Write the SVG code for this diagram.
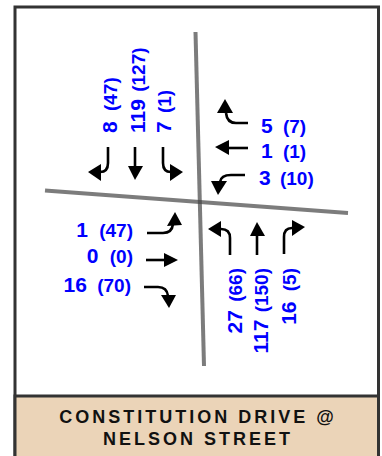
<svg xmlns="http://www.w3.org/2000/svg" width="382" height="456" viewBox="0 0 382 456">
<style>
.road{stroke:#444;stroke-opacity:0.7;stroke-width:4;fill:none}
.arr{stroke:#000;stroke-width:2.6;fill:none}
.head{fill:#000}
.vol{font-family:"Liberation Sans",Arial,sans-serif;font-weight:700;font-size:21px;fill:#0000FF}
.vol tspan{font-size:19px}
.title{font-family:"Liberation Sans",Arial,sans-serif;font-weight:700;font-size:18px;fill:#111;letter-spacing:3px;text-anchor:middle}
</style>
<rect x="0" y="0" width="382" height="456" fill="#fff"/>
<g id="frame">
<rect x="15" y="7" width="363.5" height="460" fill="#fff" stroke="#333" stroke-width="3"/>
<rect x="15" y="396" width="363.5" height="70" fill="#EBD4B8" stroke="#333" stroke-width="3"/>
</g>
<g id="roads">
<line class="road" x1="195.5" y1="32" x2="204" y2="366"/>
<line class="road" x1="45" y1="190.5" x2="348" y2="213"/>
</g>
<g id="connectors">
<path class="arr" d="M248,123 L236,123 Q227,123 226,113"/>
<polygon class="head" points="225,99 217,113 233,113"/>
<path class="arr" d="M248,148 L228,148"/>
<polygon class="head" points="215,147 229,140 229,155"/>
<path class="arr" d="M245,175 L231,175 Q221,175 220,182"/>
<polygon class="head" points="218,195 211,181 227,181"/>
<path class="arr" d="M108,147 L108,163 Q108,172 100,172"/>
<polygon class="head" points="88,172 101,164 101,181"/>
<path class="arr" d="M135,147 L135,167"/>
<polygon class="head" points="135,180 128,166 143,166"/>
<path class="arr" d="M163,147 L163,163 Q163,172 171,172"/>
<polygon class="head" points="183,172 170,164 170,181"/>
<path class="arr" d="M147,233 L163,233 Q172,233 173,224"/>
<polygon class="head" points="175,212 167,226 182,225"/>
<path class="arr" d="M146,260 L165,260"/>
<polygon class="head" points="178,260 164,253 164,267"/>
<path class="arr" d="M144,287 L158,287 Q167,287 168,296"/>
<polygon class="head" points="169,308 161,295 176,295"/>
<path class="arr" d="M230,255 L230,238 Q230,229 221,229"/>
<polygon class="head" points="208,229 221,221 221,237"/>
<path class="arr" d="M257,255 L257,235"/>
<polygon class="head" points="257,222 250,236 265,236"/>
<path class="arr" d="M284,254 L284,237 Q284,228 292,228"/>
<polygon class="head" points="305,227 292,220 292,236"/>
</g>
<g id="north-volumes">
<text class="vol" transform="translate(117,133) rotate(-90)">8<tspan dx="5"> (47)</tspan></text>
<text class="vol" transform="translate(145,133) rotate(-90)">119<tspan dx="2"> (127)</tspan></text>
<text class="vol" transform="translate(171,133) rotate(-90)">7<tspan dx="3"> (1)</tspan></text>
</g>
<g id="east-volumes">
<text class="vol" x="261" y="133">5<tspan dx="5"> (7)</tspan></text>
<text class="vol" x="261" y="158">1<tspan dx="5"> (1)</tspan></text>
<text class="vol" x="259" y="185">3<tspan dx="4"> (10)</tspan></text>
</g>
<g id="west-volumes">
<text class="vol" x="133" y="237" text-anchor="end">1<tspan dx="6"> (47)</tspan></text>
<text class="vol" x="133" y="263" text-anchor="end">0<tspan dx="6"> (0)</tspan></text>
<text class="vol" x="131" y="292" text-anchor="end">16<tspan dx="5"> (70)</tspan></text>
</g>
<g id="south-volumes">
<text class="vol" text-anchor="end" transform="translate(242,268) rotate(-90)">27<tspan dx="3"> (66)</tspan></text>
<text class="vol" text-anchor="end" transform="translate(268,268) rotate(-90)">117<tspan dx="2"> (150)</tspan></text>
<text class="vol" text-anchor="end" transform="translate(296,268) rotate(-90)">16<tspan dx="5"> (5)</tspan></text>
</g>
<g id="title">
<text class="title" x="198" y="423">CONSTITUTION DRIVE @</text>
<text class="title" x="198" y="445">NELSON STREET</text>
</g>
</svg>
